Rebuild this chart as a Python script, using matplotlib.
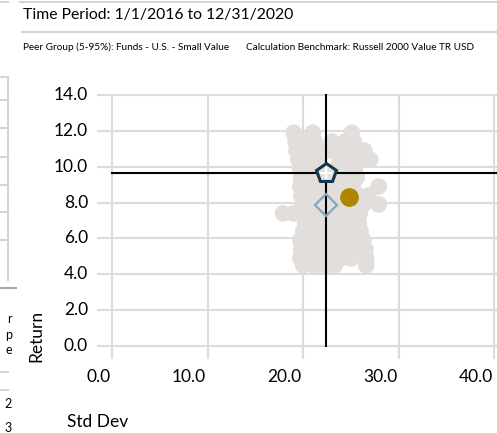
import matplotlib
matplotlib.use("Agg")
import matplotlib.pyplot as plt
from matplotlib.lines import Line2D

# peer group cloud, one row of funds per return level (std dev values)
peer_rows = {
    11.9: [19.0, 21.0, 25.1],
    11.4: [19.2, 20.3, 21.2, 23.0, 24.4, 25.3],
    10.9: [19.3, 20.2, 21.5, 22.6, 23.4, 24.5, 25.6, 26.4],
    10.4: [19.5, 20.5, 21.6, 23.8, 24.8, 25.8, 27.0],
    9.9: [19.7, 20.6, 21.4, 23.5, 24.5, 25.4],
    9.4: [19.8, 20.8, 21.6, 23.2, 24.3, 25.6],
    8.9: [19.7, 20.7, 21.6, 23.3, 24.0, 25.2, 27.9],
    8.4: [19.8, 20.7, 21.7, 22.8, 23.8, 25.7, 26.8],
    7.9: [20.0, 21.0, 21.8, 23.5, 24.5, 25.5, 26.3, 27.9],
    7.4: [17.9, 19.0, 20.3, 21.5, 22.7, 23.8, 24.8, 25.9],
    6.9: [20.2, 21.3, 22.4, 23.6, 24.7, 25.8],
    6.4: [20.0, 21.0, 22.0, 23.1, 24.4, 25.5, 26.0],
    5.9: [19.7, 20.8, 21.8, 22.9, 24.0, 25.0, 26.3],
    5.4: [19.8, 20.9, 22.0, 23.2, 24.3, 25.3, 26.5],
    4.9: [19.7, 20.8, 21.9, 23.0, 24.0, 25.0, 26.6],
    4.5: [20.0, 21.2, 22.3, 23.3, 26.6],
}
peer_sd = [x for r in peer_rows.values() for x in r]
peer_ret = [y for y, r in peer_rows.items() for _ in r]

fund_sd, fund_ret = 24.8, 8.29
bench_sd, bench_ret = 22.4, 9.63
peer_med_sd, peer_med_ret = 22.4, 7.85

x_ticks = [0, 10, 20, 30, 40]
y_ticks = [0, 2, 4, 6, 8, 10, 12, 14]

W, H = 497, 433
fig = plt.figure(figsize=(W / 100, H / 100), dpi=100)
plt.rcParams['font.family'] = ['Lato', 'DejaVu Sans']

def fx(px):
    return px / W

def fy(py):
    return 1 - py / H

# axes box in pixels
left, right, top, bottom = 96.7, 497, 94, 359
ax = fig.add_axes([fx(left), fy(bottom), fx(right - left), (bottom - top) / H])
ax.set_xlim(-1.6, 40.27)
ax.set_ylim(-0.725, 14.06)
for s in ax.spines.values():
    s.set_visible(False)
ax.set_xticks(x_ticks)
ax.set_yticks(y_ticks)
ax.tick_params(length=0, labelbottom=False, labelleft=False)
ax.grid(True, color='#dcdcdc', linewidth=1.5)
ax.set_axisbelow(True)

ax.scatter(peer_sd, peer_ret, s=145, color='#e2dedc', edgecolors='none', zorder=2)

# benchmark crosshair
ax.plot([0, 40.27], [bench_ret, bench_ret], color='black', lw=1.5, zorder=3)
ax.plot([bench_sd, bench_sd], [0, 14], color='black', lw=1.5, zorder=3)

ax.plot(peer_med_sd, peer_med_ret, marker='D', ms=11, mfc='none',
        mec='#7eaabb', mew=1.6, zorder=4)
ax.plot(fund_sd, fund_ret, marker='o', ms=13.5, color='#ae8600', mec='none', zorder=4)
ax.plot(bench_sd, bench_ret, marker='p', ms=15, mfc='#e4e0de',
        mec='#15374b', mew=2.2, zorder=5)
ax.plot(bench_sd, bench_ret, marker='+', ms=9, mew=1.5, color='white', zorder=6)

# tick labels
for t in y_ticks:
    ax.text(-2.5, t, f"{t:.1f}", ha='right', va='center', fontsize=12.5,
            clip_on=False)
for t in x_ticks:
    ax.text(t - 0.15, -1.75, f"{t:.1f}", ha='right', va='center', fontsize=12.5,
            clip_on=False)

fig.text(fx(67), fy(422), "Std Dev", ha='left', va='center', fontsize=12.5)
fig.text(fx(36), fy(336), "Return", ha='center', va='center', fontsize=12.5,
         rotation=90)

fig.text(fx(23), fy(15), "Time Period: 1/1/2016 to 12/31/2020", ha='left',
         va='center', fontsize=11.3)
fig.text(fx(23), fy(47), "Peer Group (5-95%): Funds - U.S. - Small Value",
         ha='left', va='center', fontsize=7.2)
fig.text(fx(246), fy(47), "Calculation Benchmark: Russell 2000 Value TR USD",
         ha='left', va='center', fontsize=7.2)

# frame lines around the header and the neighbouring panel
grey = '#d4d4d4'
def hline(y, x0, x1, c=grey, lw=1.5):
    fig.add_artist(Line2D([fx(x0), fx(x1)], [fy(y), fy(y)], color=c, lw=lw))

hline(2, 20, 497)
hline(32, 22, 497)
hline(2, 0, 8)
hline(77, 0, 8)
for y in [100, 128, 157, 185, 212, 240]:
    hline(y, 0, 8)
fig.add_artist(Line2D([fx(8), fx(8)], [fy(77), fy(280)], color=grey, lw=1.5))
hline(288, 0, 16, c='#a8a8a8', lw=1.5)
hline(372, 0, 8)
hline(390, 0, 8)

for ch, y in [("r", 319), ("p", 335), ("e", 350), ("2", 404), ("3", 428)]:
    fig.text(fx(12), fy(y), ch, ha='right', va='center', fontsize=9)

fig.savefig("out.png", dpi=100)
